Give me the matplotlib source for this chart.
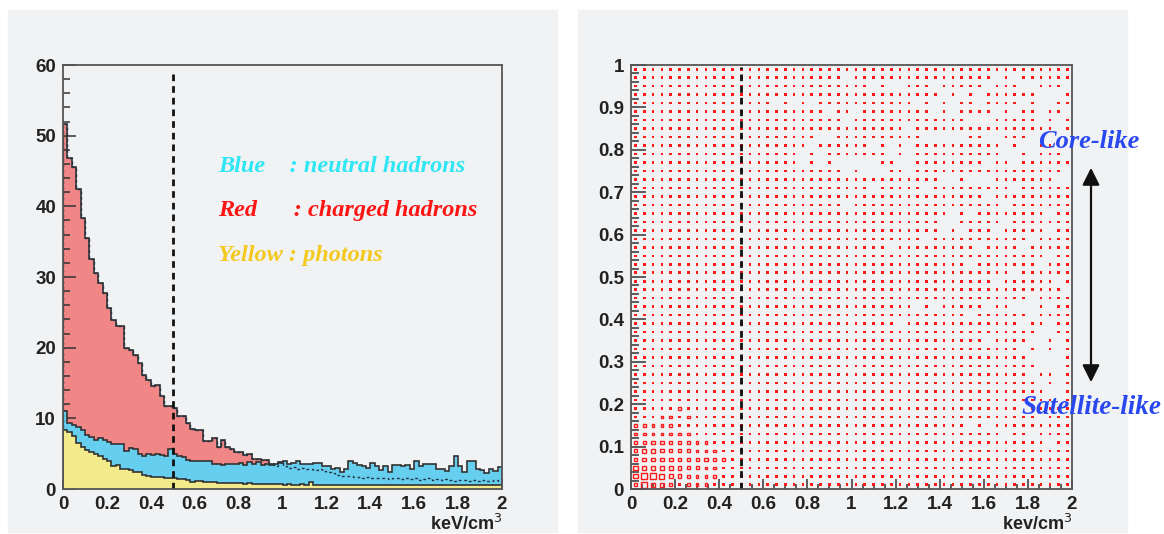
import numpy as np
import matplotlib
matplotlib.use('Agg')
import matplotlib.pyplot as plt
from matplotlib.patches import Rectangle, FancyArrowPatch

plt.rcParams['font.family'] = ['Liberation Sans', 'DejaVu Sans']

# ---- left panel: energy density histograms (100 bins, 0..2 keV/cm3)
bin_edges = np.linspace(0, 2, 101)

red_counts = [51.6, 46.9, 45.6, 42.5, 38.4, 35.5, 32.5, 30.5, 29.1, 27.7,
              25.6, 23.9, 23.0, 23.0, 19.9, 19.7, 19.0, 17.8, 16.1, 15.4,
              14.6, 14.7, 13.1, 11.7, 11.7, 11.4, 10.4, 10.3, 9.3, 8.5,
              8.4, 8.4, 6.8, 6.8, 7.2, 6.0, 6.9, 5.9, 5.6, 5.3,
              5.3, 4.8, 4.9, 4.3, 4.2, 4.1, 4.1, 3.6, 3.3, 3.8,
              3.2, 3.0, 3.1, 2.9, 3.0, 2.8, 2.9, 2.7, 2.8, 2.6,
              2.4, 2.2, 2.0, 1.9, 1.8, 1.8, 1.7, 1.7, 1.6, 1.7,
              1.6, 1.5, 1.6, 1.5, 1.4, 1.5, 1.5, 1.4, 1.6, 1.4,
              1.5, 1.3, 1.4, 1.5, 1.3, 1.4, 1.3, 1.4, 1.3, 1.2,
              1.3, 1.3, 1.2, 1.3, 1.2, 1.3, 1.2, 1.2, 1.3, 1.2]

blue_counts = [11.1, 9.3, 9.1, 8.8, 8.3, 7.6, 7.4, 6.9, 7.2, 6.9,
               6.7, 6.4, 6.4, 6.4, 5.4, 5.8, 5.6, 5.0, 4.6, 5.0,
               4.8, 5.0, 4.8, 4.7, 5.6, 5.0, 4.6, 4.5, 4.1, 3.9,
               4.0, 3.9, 3.9, 3.9, 3.6, 3.6, 3.4, 3.6, 3.5, 3.5,
               3.7, 3.4, 3.8, 3.6, 3.8, 3.4, 3.6, 3.4, 3.6, 3.7,
               3.9, 3.6, 3.7, 3.9, 3.6, 3.5, 3.5, 3.7, 3.7, 3.2,
               3.3, 2.8, 3.0, 2.4, 2.9, 4.0, 3.7, 3.4, 3.2, 3.0,
               3.7, 3.2, 2.7, 3.2, 2.4, 3.4, 3.4, 3.3, 3.4, 2.9,
               4.0, 3.2, 3.5, 3.6, 3.6, 2.9, 2.9, 2.6, 3.2, 4.6,
               3.2, 2.4, 4.0, 4.0, 2.8, 2.7, 2.3, 2.8, 2.5, 3.1]

yellow_counts = [8.4, 8.1, 7.5, 6.5, 6.0, 5.5, 5.3, 5.0, 4.6, 4.3,
                 3.9, 3.2, 3.4, 2.9, 2.9, 2.7, 2.4, 2.4, 2.0, 1.9,
                 1.7, 1.7, 1.7, 1.5, 1.5, 1.5, 1.4, 1.4, 1.3, 1.0,
                 1.1, 1.1, 1.0, 1.0, 0.95, 0.9, 0.9, 0.85, 0.8, 0.8,
                 0.8, 0.75, 0.8, 0.7, 0.7, 0.75, 0.7, 0.7, 0.65, 0.7,
                 0.6, 0.65, 0.6, 0.6, 0.65, 0.6, 1.0, 0.6, 0.6, 0.55,
                 0.6, 0.6, 0.55, 0.6, 0.6, 0.55, 0.5, 0.6, 0.55, 0.6,
                 0.55, 0.5, 0.55, 0.6, 0.5, 0.55, 0.5, 0.5, 0.6, 0.55,
                 0.5, 0.55, 0.5, 0.5, 0.55, 0.5, 0.6, 0.5, 0.5, 0.55,
                 0.5, 0.5, 0.55, 0.5, 0.5, 0.6, 0.5, 0.5, 0.55, 0.5]

legend_lines = ['Blue    : neutral hadrons',
                'Red      : charged hadrons',
                'Yellow : photons']
legend_colors = ['#2ee6f4', '#ff1414', '#f5c81e']

# ---- right panel: 50x50 box histogram (x 0..2, y 0..1)
nx, ny = 50, 50
# cell contents in the low corner (rows = y bins 0..9, cols = x bins 0..11)
corner_counts = [[2, 12, 5, 4, 3, 1, 3, 2, 2, 1, 1, 1],
                 [6, 11, 11, 7, 4, 4, 3, 2, 2, 2, 1, 1],
                 [5, 5, 5, 5, 5, 4, 3, 3, 2, 2, 1, 1],
                 [4, 4, 4, 4, 4, 3, 3, 3, 3, 3, 2, 1],
                 [3, 4, 4, 3, 3, 3, 3, 2, 2, 2, 1, 1],
                 [3, 3, 3, 3, 3, 3, 2, 2, 2, 1, 1, 1],
                 [2, 2, 2, 2, 2, 2, 2, 1, 1, 1, 1, 1],
                 [2, 2, 2, 2, 2, 1, 1, 1, 1, 1, 1, 1],
                 [1, 1, 1, 2, 2, 1, 2, 1, 1, 1, 1, 1],
                 [1, 1, 1, 1, 1, 2, 1, 1, 1, 1, 1, 1]]
# x bins left empty, per y bin
empty_cells = {
    48: [24, 41, 43],
    47: [27, 29, 30, 34, 40, 44, 45, 49],
    46: [35, 37, 39, 46, 47, 48],
    45: [16, 18, 20, 32, 34, 36, 39, 44, 46, 47],
    44: [22, 25, 34, 36, 41, 43, 46, 49],
    43: [24, 38, 39, 40, 46, 48],
    42: [31, 48],
    41: [21, 22, 33, 34, 35, 36, 37, 40, 41, 45, 46, 47, 48, 49],
    40: [20, 27, 29, 31, 42, 44, 45, 48, 49],
    39: [19, 21, 29, 31, 42, 43, 45, 49],
    38: [19, 21, 23, 24, 25, 26, 27, 30, 31, 40, 43],
    37: [24, 26, 27, 28, 31, 49],
    36: [35, 36, 38, 39, 40, 48, 49],
    35: [27, 33, 43],
    34: [40],
    33: [24, 42],
    32: [36, 38, 47],
    31: [35, 36, 42],
    30: [35, 37, 41, 47],
    29: [33, 45],
    28: [29, 39, 44],
    27: [47],
    26: [38, 46],
    25: [43],
    24: [41, 48],
    23: [49],
    22: [45],
    21: [32, 34, 40, 43, 44, 45, 47],
    20: [38, 45],
    19: [30, 44, 47],
    18: [46, 47],
    17: [40, 45, 46, 48],
    16: [44, 46, 48],
    15: [45, 46, 47, 48],
    14: [46, 47, 48],
    13: [45, 48],
    12: [46, 48],
    11: [47, 48],
    10: [48],
    9: [44],
    8: [46],
    7: [38, 40],
    6: [42, 45],
    5: [47],
}

cut_value = 0.5
canvas_gray = '#f0f2f4'
frame_col = '#555555'

fig = plt.figure(figsize=(11.64, 5.34), dpi=100)
fig.patch.set_facecolor('white')
for x0 in (8, 578):
    fig.patches.append(Rectangle((x0 / 1164, 2 / 534), 549 / 1164, 522 / 534,
                                 transform=fig.transFigure, color=canvas_gray, zorder=-5))

ax1 = fig.add_axes([63 / 1164, 1 - 489 / 534, 439 / 1164, 424 / 534])
ax2 = fig.add_axes([631 / 1164, 1 - 489 / 534, 441 / 1164, 424 / 534])


def style_axes(ax, xlabel):
    ax.set_facecolor(canvas_gray)
    for s in ax.spines.values():
        s.set_color(frame_col)
        s.set_linewidth(1.3)
        s.set_zorder(6)
    ax.tick_params(which='both', direction='in', top=False, right=False,
                   colors='#333333', labelsize=13.5, width=1.1)
    ax.tick_params(axis='y', pad=5)
    for lab in ax.get_xticklabels() + ax.get_yticklabels():
        lab.set_fontweight('bold')
        lab.set_color('#222222')
    ax.text(1.0, -0.083, xlabel, transform=ax.transAxes, ha='right', va='center',
            fontsize=13, fontweight='bold', color='#222222')


# left histograms: red drawn first, blue and yellow on top
ax1.stairs(red_counts, bin_edges, fill=True, color='#f08686', zorder=1)
ax1.stairs(red_counts, bin_edges, color='#333333', lw=1.2, zorder=1.5)
ax1.stairs(blue_counts, bin_edges, fill=True, color='#66cff0', zorder=2)
ax1.stairs(blue_counts, bin_edges, color='#333333', lw=1.2, zorder=2.5)
ax1.stairs(red_counts, bin_edges, color='#223344', lw=1.0, ls=(0, (2, 2)), zorder=2.6)
ax1.stairs(yellow_counts, bin_edges, fill=True, color='#f3ea8c', zorder=3)
ax1.stairs(yellow_counts, bin_edges, color='#333333', lw=1.2, zorder=3.5)
ax1.plot([cut_value, cut_value], [0, 59.5], color='#111111', lw=2, ls=(0, (2.4, 1.8)), zorder=4)

ax1.set_xlim(0, 2)
ax1.set_ylim(0, 60)
ax1.set_xticks(np.arange(0, 2.01, 0.2))
ax1.set_xticks(np.arange(0, 2.01, 0.05), minor=True)
ax1.set_yticks(np.arange(0, 61, 10))
ax1.set_yticks(np.arange(0, 61, 2), minor=True)
ax1.set_xticklabels([f'{v:g}' for v in np.arange(0, 2.01, 0.2).round(1)])
ax1.tick_params(axis='y', which='major', length=9.5)
ax1.tick_params(axis='y', which='minor', length=5)
ax1.tick_params(axis='x', which='major', length=7, pad=5)
ax1.tick_params(axis='x', which='minor', length=3.5)
style_axes(ax1, 'keV/cm$^3$')

for i, (line, col) in enumerate(zip(legend_lines, legend_colors)):
    ax1.text(0.705, 45.7 - 6.35 * i, line, color=col, fontsize=17.5, fontweight='bold',
             fontstyle='italic', family=['Liberation Serif', 'DejaVu Serif'],
             va='center', ha='left', zorder=5)

# right box histogram
dx, dy = 2.0 / nx, 1.0 / ny
max_count = 12.0
for iy in range(ny):
    gaps = empty_cells.get(iy, [])
    for ix in range(nx):
        if ix in gaps:
            continue
        n = 1
        if iy < len(corner_counts) and ix < len(corner_counts[0]):
            n = corner_counts[iy][ix]
        frac = max(0.74 * np.sqrt(n / max_count), 0.3)
        cx, cy = (ix + 0.5) * dx, (iy + 0.5) * dy
        w, h = frac * dx, frac * dy
        if n <= 1:
            ax2.add_patch(Rectangle((cx - w / 2, cy - h / 2), w, h, facecolor='#ff1a1a',
                                    edgecolor='none', zorder=2))
        else:
            ax2.add_patch(Rectangle((cx - w / 2, cy - h / 2), w, h, facecolor='none',
                                    edgecolor='#ff1a1a', lw=1.0, zorder=2))
ax2.plot([cut_value, cut_value], [0, 0.995], color='#111111', lw=2, ls=(0, (2.4, 1.8)), zorder=4)

ax2.set_xlim(0, 2)
ax2.set_ylim(0, 1)
ax2.set_xticks(np.arange(0, 2.01, 0.2))
ax2.set_xticks(np.arange(0, 2.01, 0.05), minor=True)
ax2.set_yticks(np.arange(0, 1.01, 0.1))
ax2.set_yticks(np.arange(0, 1.01, 0.02), minor=True)
ax2.set_xticklabels([f'{v:g}' for v in np.arange(0, 2.01, 0.2).round(1)])
ax2.set_yticklabels([f'{v:g}' for v in np.arange(0, 1.01, 0.1).round(1)])
ax2.tick_params(axis='y', which='major', length=11)
ax2.tick_params(axis='y', which='minor', length=5.5)
ax2.tick_params(axis='x', which='major', length=7, pad=5)
ax2.tick_params(axis='x', which='minor', length=3.5)
style_axes(ax2, 'kev/cm$^3$')

# annotations on the right
fig.text(1089 / 1164, 1 - 142 / 534, 'Core-like', color='#2a48f0', fontsize=19,
         fontweight='bold', fontstyle='italic', family=['Liberation Serif', 'DejaVu Serif'],
         ha='center', va='center')
fig.text(1091 / 1164, 1 - 407 / 534, 'Satellite-like', color='#2a48f0', fontsize=19.5,
         fontweight='bold', fontstyle='italic', family=['Liberation Serif', 'DejaVu Serif'],
         ha='center', va='center')
fig.add_artist(FancyArrowPatch(
    (1091 / 1164, 1 - 385 / 534), (1091 / 1164, 1 - 165 / 534),
    transform=fig.transFigure, arrowstyle='<|-|>', mutation_scale=26,
    color='#111111', lw=1.6))

fig.savefig('out.png', dpi=100)
